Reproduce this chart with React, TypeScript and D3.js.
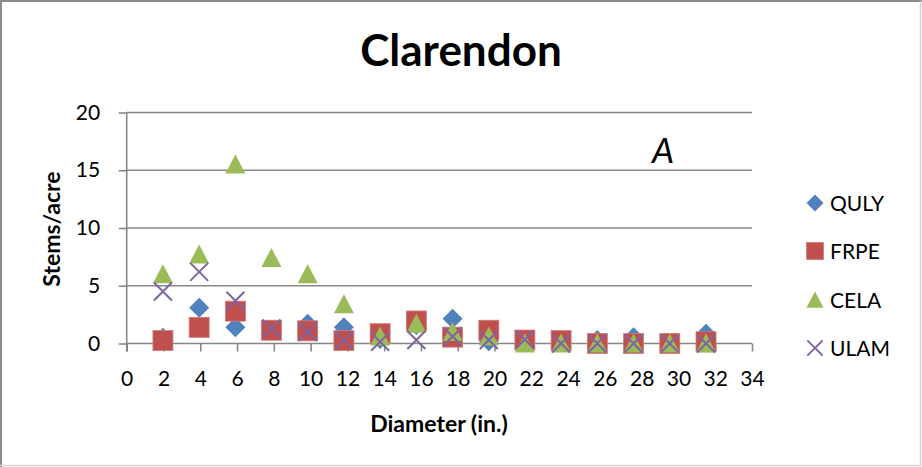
import React, { useEffect, useRef } from "react";
import * as d3 from "d3";

// Diameter classes (in.) – 5 cm classes expressed in inches
const diameters = [1.97, 3.94, 5.91, 7.87, 9.84, 11.81, 13.78, 15.75, 17.72, 19.69, 21.65, 23.62, 25.59, 27.56, 29.53, 31.5];
const quly = [0.5, 3.1, 1.4, 1.1, 1.7, 1.4, 0.4, 1.6, 2.15, 0.2, 0.2, 0.2, 0.3, 0.55, 0, 0.85];
const frpe = [0.25, 1.4, 2.8, 1.15, 1.1, 0.25, 0.85, 1.95, 0.55, 1.15, 0.3, 0.25, 0, 0, 0, 0.15];
const cela = [6.0, 7.7, 15.5, 7.4, 6.0, 3.4, 0.6, 1.7, 1.0, 0.6, 0, 0, 0, 0, 0, 0];
const ulam = [4.5, 6.2, 3.7, 1.3, 1.0, 0.25, 0.15, 0.3, 0.6, 0.3, 0.35, 0, 0, 0, 0, 0];

const xTicks = [0, 2, 4, 6, 8, 10, 12, 14, 16, 18, 20, 22, 24, 26, 28, 30, 32, 34];
const yTicks = [0, 5, 10, 15, 20];

const seriesNames = ["QULY", "FRPE", "CELA", "ULAM"];
const seriesData = [quly, frpe, cela, ulam];
const seriesColors = ["#4F81BD", "#C0504D", "#9BBB59", "#8064A2"];
const seriesShapes = ["diamond", "square", "triangle", "x"];

const W = 922;
const H = 467;
const FONT = "Lato, 'Open Sans', sans-serif";

function drawMarker(g: any, shape: string, color: string, s: number) {
  const h = s / 2;
  if (shape === "diamond") {
    g.append("path").attr("d", `M0,${-h}L${h},0L0,${h}L${-h},0Z`).attr("fill", color);
  } else if (shape === "square") {
    g.append("rect").attr("x", -h).attr("y", -h).attr("width", s).attr("height", s)
      .attr("fill", color).attr("stroke", "#D07C7A").attr("stroke-width", 0.8);
  } else if (shape === "triangle") {
    g.append("path").attr("d", `M0,${-h}L${h},${h * 0.9}L${-h},${h * 0.9}Z`).attr("fill", color);
  } else {
    const k = h * 0.9;
    g.append("path").attr("d", `M${-k},${-k}L${k},${k}M${-k},${k}L${k},${-k}`)
      .attr("stroke", color).attr("stroke-width", 2).attr("fill", "none");
  }
}

export default function App() {
  const ref = useRef<SVGSVGElement>(null);

  useEffect(() => {
    document.body.style.margin = "0";
    const svg = d3.select(ref.current);
    svg.selectAll("*").remove();

    svg.append("rect").attr("x", 0).attr("y", 0).attr("width", W).attr("height", H).attr("fill", "#fff");
    // chart border: darker left/top, lighter right/bottom
    svg.append("path").attr("d", `M1,${H}L1,1L${W},1`).attr("fill", "none")
      .attr("stroke", "#8c8c8c").attr("stroke-width", 2);
    svg.append("path").attr("d", `M920.5,1L920.5,465.5L0,465.5`).attr("fill", "none")
      .attr("stroke", "#d4d4d4").attr("stroke-width", 1.5);

    const x = d3.scaleLinear().domain([0, 34]).range([126.7, 752]);
    const y = d3.scaleLinear().domain([0, 20]).range([343.5, 112.5]);
    const gridColor = "#878787";

    // gridlines
    svg.append("g").selectAll("line").data(yTicks).join("line")
      .attr("x1", x(0)).attr("x2", x(34))
      .attr("y1", (d) => y(d)).attr("y2", (d) => y(d))
      .attr("stroke", gridColor).attr("stroke-width", 1.6);

    // y axis
    const yAxis = svg.append("g").attr("transform", `translate(${x(0)},0)`)
      .call(d3.axisLeft(y).tickValues(yTicks).tickSize(8).tickSizeOuter(0).tickPadding(18.5).tickFormat((d) => String(d)));
    yAxis.select(".domain").remove();
    yAxis.selectAll(".tick line").attr("stroke", gridColor).attr("stroke-width", 1.6);
    yAxis.selectAll(".tick text").attr("font-family", FONT).attr("font-size", 21).attr("fill", "#000");
    svg.append("line").attr("x1", x(0)).attr("x2", x(0)).attr("y1", y(20)).attr("y2", y(0) + 8)
      .attr("stroke", gridColor).attr("stroke-width", 1.6);

    // x axis
    const xAxis = svg.append("g").attr("transform", `translate(0,${y(0)})`)
      .call(d3.axisBottom(x).tickValues(xTicks).tickSize(8).tickSizeOuter(0).tickPadding(20).tickFormat((d) => String(d)));
    xAxis.select(".domain").remove();
    xAxis.selectAll(".tick line").attr("stroke", gridColor).attr("stroke-width", 1.6);
    xAxis.selectAll(".tick text").attr("font-family", FONT).attr("font-size", 21).attr("fill", "#000");

    // series
    seriesData.forEach((vals, si) => {
      const g = svg.append("g");
      vals.forEach((v, i) => {
        const m = g.append("g").attr("transform", `translate(${x(diameters[i])},${y(v)})`);
        drawMarker(m, seriesShapes[si], seriesColors[si], 20);
      });
    });

    // title
    svg.append("text").attr("x", 461).attr("y", 66).attr("text-anchor", "middle")
      .attr("font-family", FONT).attr("font-weight", "bold").attr("font-size", 44).attr("fill", "#000")
      .text("Clarendon");

    // panel letter
    svg.append("text").attr("x", 663).attr("y", 163).attr("text-anchor", "middle")
      .attr("font-family", FONT).attr("font-style", "italic").attr("font-size", 35).attr("fill", "#000")
      .text("A");

    // axis titles
    svg.append("text").attr("x", 439).attr("y", 432).attr("text-anchor", "middle")
      .attr("font-family", FONT).attr("font-weight", "bold").attr("font-size", 23).attr("fill", "#000")
      .text("Diameter (in.)");
    svg.append("text").attr("transform", `translate(60,229) rotate(-90)`).attr("text-anchor", "middle")
      .attr("font-family", FONT).attr("font-weight", "bold").attr("font-size", 23).attr("fill", "#000")
      .text("Stems/acre");

    // legend
    const legendY = [203, 251, 300, 348];
    seriesNames.forEach((name, i) => {
      const g = svg.append("g").attr("transform", `translate(815,${legendY[i]})`);
      drawMarker(g, seriesShapes[i], seriesColors[i], 17);
      g.append("text").attr("x", 15).attr("y", 0).attr("dy", "0.36em")
        .attr("font-family", FONT).attr("font-size", 21).attr("fill", "#000").text(name);
    });
  }, []);

  return (
    <svg ref={ref} width={W} height={H} style={{ position: "fixed", left: 0, top: 0, display: "block" }} />
  );
}
